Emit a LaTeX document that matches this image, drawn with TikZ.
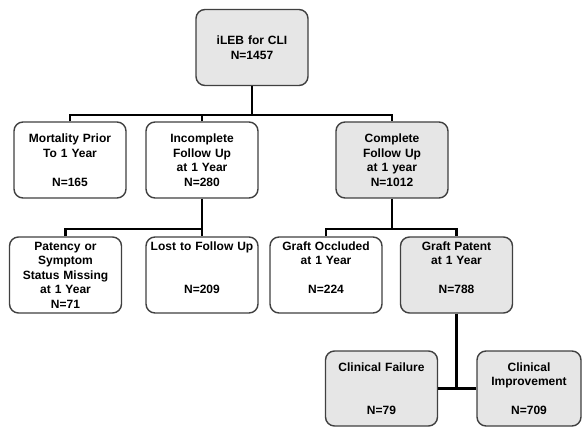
\documentclass[tikz,border=0pt]{standalone}
\usepackage{fontspec}
\setmainfont{Liberation Sans}
\definecolor{boxgray}{HTML}{E6E6E6}
\definecolor{boxline}{HTML}{404040}
\tikzset{
  flowbox/.style={draw=boxline, line width=1.4pt, rounded corners=9pt, fill=white,
    text width=104pt, inner xsep=4pt, inner ysep=0pt, minimum height=76pt,
    align=center, font=\bfseries\fontsize{12}{14.5}\selectfont},
  graybox/.style={flowbox, fill=boxgray},
  link/.style={draw=black, line width=2.6pt}
}
\begin{document}
\begin{tikzpicture}[x=1pt,y=-1pt]
      \useasboundingbox (0,0) rectangle (583,427);

      \begin{scope}[every node/.style={flowbox}]
        \node[graybox] (root)     at (252,47.5)  {iLEB for CLI\\N=1457};
        \node          (mort)     at (70,160)    {Mortality Prior\\To 1 Year\\~\\N=165};
        \node          (incomp)   at (202,160)   {Incomplete\\Follow Up\\at 1 Year\\N=280};
        \node[graybox] (comp)     at (392,160)   {Complete\\Follow Up\\at 1 year\\N=1012};
        \node          (patency)  at (65.5,275)  {Patency or\\Symptom\\Status Missing\\at 1 Year\\N=71};
        \node          (lost)     at (202,275)   {Lost to Follow Up\\~\\~\\N=209\\~};
        \node          (occl)     at (326,275)   {Graft Occluded\\at 1 Year\\~\\N=224\\~};
        \node[graybox] (patent)   at (456.5,275) {Graft Patent\\at 1 Year\\~\\N=788\\~};
        \node[graybox, minimum height=75pt] (fail) at (381.5,388.5) {Clinical Failure\\~\\~\\N=79};
        \node[graybox, minimum height=75pt, text width=96pt] (impr) at (529,388.5) {Clinical\\Improvement\\~\\N=709};
      \end{scope}

      \coordinate (bus1) at (0,115);
      \coordinate (bus2) at (0,229);

      \begin{scope}[link]
        \draw (root.south) -- (root.south |- bus1);
        \draw (mort.north) |- (comp.north |- bus1) -- (comp.north);
        \draw (incomp.north) -- (incomp.north |- bus1);
        \draw (incomp.south) -- (lost.north);
        \draw (patency.north) |- (lost.north |- bus2);
        \draw (comp.south) -- (comp.south |- bus2);
        \draw (occl.north) |- (patent.north |- bus2) -- (patent.north);
        \draw (patent.south) -- (patent.south |- fail.east);
        \draw (fail.east) -- (impr.west);
      \end{scope}

    \end{tikzpicture}
\end{document}
